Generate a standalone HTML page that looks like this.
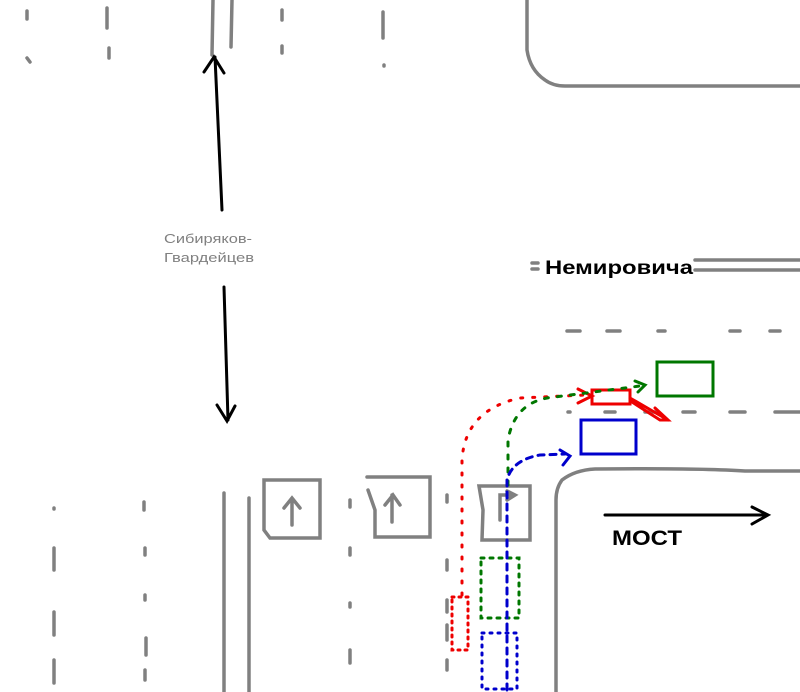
<!DOCTYPE html>
<html><head><meta charset="utf-8"><style>html,body{margin:0;padding:0;background:#fff}svg{display:block}</style></head>
<body>
<svg width="800" height="692" viewBox="0 0 800 692" xmlns="http://www.w3.org/2000/svg" font-family="Liberation Sans, sans-serif">
<g stroke="#808080" stroke-width="3.5" fill="none" stroke-linecap="round">
<line x1="213" y1="0" x2="212" y2="55"/>
<line x1="232" y1="0" x2="231" y2="47"/>
<path d="M27 11V19 M27 58L30 62 M107 8V28 M109 48V58 M282 10V20 M282 46V53 M383 12V38 M384 65V66"/>
<path d="M527 0V50 Q530 70 545 80 Q553 86 565 86 H800"/>
<path d="M695 260H800 M695 270H800 M532 263H538 M532 269H538"/>
<path d="M567 331H580 M607 331H620 M658 331H665 M730 331H740 M770 331H780"/>
<path d="M568 412H570 M605 412H615 M645 412H655 M683 412H695 M730 412H745 M775 412H800"/>
<path d="M800 471H745 Q700 468 595 469 Q575 470 562 480 Q556 488 556 500 V692"/>
<path d="M224 493V692 M249 498V692"/>
<path d="M54 508V509 M54 548V570 M54 612V635 M54 660V683 M144 502V510 M145 548V555 M145 595V600 M146 638V655 M145 670V680 M350 500V507 M350 548V555 M350 603V607 M350 650V663 M447 495V502 M447 560V570 M447 600V612 M447 625V640 M447 660V670"/>
<path d="M264 480H320V538H270L264 530Z M292 525V500 M284 508L292 498L300 508"/>
<path d="M367 477H430V537H375V510L368 490 M392 522V495 M385 505L393 495L400 505"/>
<path d="M479 486H530V540H482L483 510Z M500 520V495H510 M507 491L515 495L507 500"/>
</g>
<g stroke="#000" stroke-width="3" fill="none" stroke-linecap="round">
<path d="M215 57L222 210 M204 72L214 57L224 73"/>
<path d="M224 287L228 420 M217 405L227 421L235 406"/>
<path d="M605 515H765 M752 507L768 515L752 524"/>
</g>
<text x="164" y="243" font-size="13" fill="#808080" textLength="88" lengthAdjust="spacingAndGlyphs">Сибиряков-</text>
<text x="164" y="262" font-size="13" fill="#808080" textLength="90" lengthAdjust="spacingAndGlyphs">Гвардейцев</text>
<text x="545" y="274" font-size="19" font-weight="bold" fill="#000" textLength="148" lengthAdjust="spacingAndGlyphs">Немировича</text>
<text x="612" y="545" font-size="21" font-weight="bold" fill="#000" textLength="70" lengthAdjust="spacingAndGlyphs">МОСТ</text>
<g fill="none" stroke-width="3" stroke-linecap="round">
<path stroke="#e00" stroke-dasharray="2 10" d="M462 595V460 Q465 410 520 398 L585 395"/>
<path stroke="#e00" d="M578 389L592 396L578 403"/>
<rect x="452" y="597" width="16" height="53" stroke="#e00" stroke-dasharray="2 5"/>
<rect x="592" y="390" width="38" height="14" stroke="#e00"/>
<path stroke="#e00" d="M630 398L668 420 M632 402L660 420 L668 420 L655 408"/>
<path stroke="#070" stroke-dasharray="4 9" d="M508 485V440 Q515 400 555 397 L640 386"/>
<path stroke="#070" d="M635 381L645 385L638 392"/>
<rect x="481" y="558" width="38" height="60" stroke="#070" stroke-dasharray="3 6"/>
<rect x="657" y="362" width="56" height="34" stroke="#070"/>
<path stroke="#00c" stroke-dasharray="6 6" d="M507 690V480 Q512 460 540 455 L565 454"/>
<path stroke="#00c" d="M560 450L570 456L563 465"/>
<rect x="482" y="633" width="35" height="56" stroke="#00c" stroke-dasharray="2 6"/>
<rect x="581" y="420" width="55" height="34" stroke="#00c"/>
</g>
</svg>
</body></html>
